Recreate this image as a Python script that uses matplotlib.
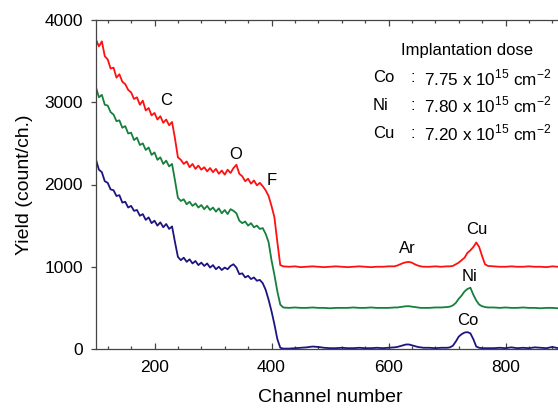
import numpy as np
import matplotlib
matplotlib.use("Agg")
import matplotlib.pyplot as plt

plt.rcParams['font.family'] = ['Liberation Sans', 'DejaVu Sans']
plt.rcParams['mathtext.fontset'] = 'custom'
plt.rcParams['mathtext.rm'] = 'Liberation Sans'

# channel numbers (dense in the surface region, coarser in the flat tail)
ch_head = list(range(100, 421, 5))
ch_tail = (list(range(430, 601, 10)) + list(range(610, 661, 5)) +
           [670, 680, 690, 700] + list(range(705, 771, 5)) +
           list(range(780, 901, 10)))
channels = ch_head + ch_tail

# Cu implanted (offset +1000)
cu_head = [3760, 3680, 3740, 3560, 3520, 3410, 3420, 3300, 3340, 3250,
           3220, 3150, 3120, 3040, 3060, 2970, 3020, 2900, 2930, 2840,
           2870, 2790, 2830, 2750, 2790, 2720, 2760, 2560, 2330, 2300,
           2250, 2280, 2210, 2250, 2190, 2230, 2180, 2210, 2160, 2200,
           2150, 2190, 2130, 2170, 2120, 2180, 2140, 2200, 2240, 2130,
           2100, 2040, 2070, 2010, 2050, 1990, 2020, 1980, 1930, 1860,
           1740, 1600, 1300, 1020, 1005]
cu_tail = [1000, 1005, 995, 1000, 1005, 1000, 995, 1000, 1005, 1000,
           995, 1000, 1005, 1000, 995, 1000, 1000, 1005,
           1005, 1015, 1030, 1045, 1055, 1058, 1050, 1030, 1015, 1005, 1000,
           1000, 1005, 1000, 1005,
           1005, 1010, 1030, 1050, 1080, 1110, 1170, 1200, 1240, 1295,
           1240, 1130, 1030, 1010,
           1005, 1000, 1000, 1005, 1000, 1000, 1005, 1000, 1000, 995,
           1005, 1000, 1000]

# Ni implanted (offset +500)
ni_head = [3180, 3060, 3090, 2970, 2960, 2880, 2850, 2770, 2780, 2690,
           2710, 2620, 2630, 2540, 2570, 2480, 2500, 2420, 2450, 2360,
           2390, 2300, 2330, 2250, 2290, 2220, 2250, 2050, 1840, 1800,
           1820, 1760, 1790, 1740, 1770, 1720, 1750, 1700, 1740, 1690,
           1720, 1670, 1710, 1650, 1690, 1640, 1700, 1680, 1650, 1560,
           1530, 1550, 1500, 1530, 1480, 1500, 1460, 1470, 1400, 1300,
           1080, 900, 700, 540, 505]
ni_tail = [500, 505, 500, 500, 505, 500, 500, 495, 500, 500,
           500, 505, 500, 500, 505, 500, 500, 500,
           505, 505, 510, 515, 520, 520, 515, 510, 505, 500, 500,
           500, 505, 505, 510,
           515, 530, 560, 610, 650, 700, 730, 745, 660, 590,
           540, 520, 510, 505,
           505, 500, 505, 500, 500, 505, 500, 500, 495, 500,
           500, 495, 495]

# Co implanted
co_head = [2300, 2180, 2150, 2040, 2020, 1940, 1930, 1860, 1870, 1780,
           1790, 1720, 1740, 1680, 1690, 1620, 1640, 1570, 1600, 1530,
           1560, 1500, 1540, 1480, 1520, 1460, 1490, 1300, 1120, 1080,
           1110, 1060, 1090, 1040, 1070, 1020, 1050, 1010, 1040, 990,
           1020, 970, 1000, 960, 990, 970, 1010, 1030, 990, 910,
           920, 870, 890, 850, 870, 830, 840, 800, 720, 600,
           460, 300, 120, 15, 5]
co_tail = [5, 10, 15, 20, 30, 25, 15, 10, 10, 15,
           10, 10, 15, 10, 10, 15, 10, 15,
           20, 25, 35, 45, 55, 55, 45, 35, 25, 20, 15,
           15, 10, 15, 15,
           20, 40, 90, 150, 180, 200, 205, 190, 120, 30,
           15, 10, 10, 10,
           10, 15, 10, 20, 10, 15, 10, 20, 15, 10,
           25, 10, 15]

series = [
    (cu_head + cu_tail, '#ff1010'),
    (ni_head + ni_tail, '#14803c'),
    (co_head + co_tail, '#1c1480'),
]

peak_labels = ['C', 'O', 'F', 'Ar', 'Cu', 'Ni', 'Co']
peak_x = [220, 339, 400, 633, 751, 738, 736]
peak_y = [3020, 2360, 2050, 1220, 1450, 885, 350]

dose_elem = ['Co', 'Ni', 'Cu']
dose_val = ['7.75', '7.80', '7.20']

fig = plt.figure(figsize=(5.58, 4.12), dpi=100)
ax = fig.add_axes([96 / 558, 63 / 412, 468 / 558, 329 / 412])

for y, c in series:
    ax.plot(channels, y, color=c, lw=1.3)

ax.set_xlim(100, 900)
ax.set_ylim(0, 4000)
ax.set_xticks([200, 400, 600, 800])
ax.set_xticks(np.arange(120, 900, 40), minor=True)
ax.set_yticks([0, 1000, 2000, 3000, 4000])

for s in ['left', 'top', 'bottom']:
    ax.spines[s].set_color('#444444')
    ax.spines[s].set_linewidth(0.9)
ax.spines['right'].set_visible(False)

ax.tick_params(axis='x', which='both', direction='in', top=True,
               colors='#444444', labelcolor='black', labelsize=12.5, pad=8)
ax.tick_params(axis='x', which='major', length=4.5, width=0.9)
ax.tick_params(axis='x', which='minor', length=2.5, width=0.9)
ax.tick_params(axis='y', which='major', direction='out', length=3.5, width=0.9,
               colors='#444444', labelcolor='black', labelsize=12.5, pad=6)

ax.set_xlabel('Channel number', fontsize=14, labelpad=10)
ax.set_ylabel('Yield (count/ch.)', fontsize=14, labelpad=8)

for lab, x, y in zip(peak_labels, peak_x, peak_y):
    ax.text(x, y, lab, ha='center', va='center', fontsize=12)

fig.text(467 / 558, 1 - 50 / 412, 'Implantation dose', ha='center',
         va='center', fontsize=12)
for i, (el, v) in enumerate(zip(dose_elem, dose_val)):
    ypix = 78 + i * 27.5
    fig.text(373 / 558, 1 - ypix / 412, el, ha='left', va='center', fontsize=12)
    fig.text(411 / 558, 1 - ypix / 412, ':', ha='left', va='center', fontsize=12)
    fig.text(424 / 558, 1 - ypix / 412,
             v + r' x 10$^{15}$ cm$^{\mathrm{-2}}$',
             ha='left', va='center', fontsize=12.3)

fig.savefig('out.png', dpi=100)
